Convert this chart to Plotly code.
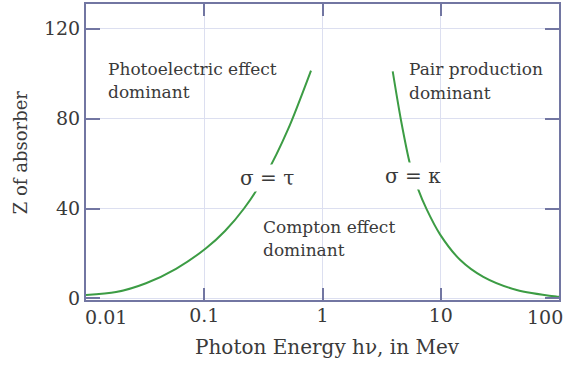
import plotly.graph_objects as go

# Photoelectric / Compton boundary (sigma = tau)
photo_E = [0.01, 0.01795, 0.03216, 0.0577, 0.1035, 0.1498, 0.2169, 0.3328, 0.5107, 0.7993]
photo_Z = [1.55, 2.83, 6.76, 13.2, 22.3, 30.0, 40.0, 55.2, 75.2, 101.4]

# Compton / pair production boundary (sigma = kappa)
pair_E = [3.924, 4.611, 5.495, 6.421, 7.606, 9.856, 14.55, 22.9, 43.88, 95.6, 100]
pair_Z = [101.0, 79.3, 59.8, 48.7, 39.6, 28.5, 17.2, 9.6, 3.76, 0.8, 0.7]

x_ticks = [0.01, 0.1, 1, 10, 100]
x_tick_text = ["0.01", "0.1", "1", "10", "100"]
y_ticks = [0, 40, 80, 120]

FONT = "DejaVu Serif"
TXT = "#3a3a3a"
AX = "#7276a2"
GRID = "#dcdff0"
GREEN = "#3c9c44"

fig = go.Figure()
fig.add_trace(go.Scatter(x=photo_E, y=photo_Z, mode="lines",
                         line=dict(color=GREEN, width=2, shape="spline", smoothing=0.8), hoverinfo="skip"))
fig.add_trace(go.Scatter(x=pair_E, y=pair_Z, mode="lines",
                         line=dict(color=GREEN, width=2, shape="spline", smoothing=0.8), hoverinfo="skip"))

fig.update_layout(
    width=575, height=370,
    margin=dict(l=86, r=16, t=2, b=70),
    paper_bgcolor="white", plot_bgcolor="white",
    showlegend=False,
    font=dict(family=FONT, color=TXT, size=18),
)
# inner tick labels shown normally; the two end labels are nudged inward
inner_text = [t if 0 < i < len(x_tick_text) - 1 else "" for i, t in enumerate(x_tick_text)]
fig.update_xaxes(
    type="log", range=[-2, 2],
    tickvals=x_ticks, ticktext=inner_text,
    showgrid=True, gridcolor=GRID, gridwidth=1,
    showline=True, linecolor=AX, linewidth=2, mirror="ticks",
    ticks="inside", ticklen=12, tickwidth=2, tickcolor=AX,
    tickfont=dict(family=FONT, size=19, color=TXT),
    ticklabelstandoff=-3,
    zeroline=False,
)
fig.update_yaxes(
    range=[-0.7, 131],
    tickvals=y_ticks,
    showgrid=True, gridcolor=GRID, gridwidth=1,
    showline=True, linecolor=AX, linewidth=2, mirror="ticks",
    ticks="inside", ticklen=14, tickwidth=2, tickcolor=AX,
    tickfont=dict(family=FONT, size=19, color=TXT),
    zeroline=False,
)

ann = []
ann.append(dict(x=-2, y=0, xref="x", yref="paper", text=x_tick_text[0], showarrow=False,
                font=dict(size=19), xanchor="left", yanchor="top", yshift=-4, xshift=-3))
ann.append(dict(x=2, y=0, xref="x", yref="paper", text=x_tick_text[-1], showarrow=False,
                font=dict(size=19), xanchor="right", yanchor="top", yshift=-4, xshift=6))
ann.append(dict(x=0.51, y=-0.158, xref="paper", yref="paper", text="Photon Energy hν, in Mev",
                showarrow=False, font=dict(size=20), xanchor="center", yanchor="middle"))
ann.append(dict(x=-0.139, y=0.5, xref="paper", yref="paper", text="Z of absorber", textangle=-90,
                showarrow=False, font=dict(size=18), xanchor="center", yanchor="middle"))

labels = [
    ("Photoelectric effect", 0.0423, 101.9),
    ("dominant", 0.0423, 91.7),
    ("Pair production", 0.6786, 101.9),
    ("dominant", 0.6786, 91.3),
    ("Compton effect", 0.370, 31.6),
    ("dominant", 0.370, 21.4),
]
for txt, xp, yv in labels:
    ann.append(dict(x=xp, y=yv, xref="paper", yref="y", text=txt, align="left",
                    showarrow=False, font=dict(size=17), xanchor="left", yanchor="middle"))

ann.append(dict(x=-0.473, y=53.8, xref="x", yref="y", text="σ = τ",
                showarrow=False, font=dict(size=20), bgcolor="white", xanchor="center", yanchor="middle"))
ann.append(dict(x=0.768, y=54.6, xref="x", yref="y", text="σ = κ",
                showarrow=False, font=dict(size=20), bgcolor="white", xanchor="center", yanchor="middle"))
fig.update_layout(annotations=ann)

fig.write_html("out.html")
